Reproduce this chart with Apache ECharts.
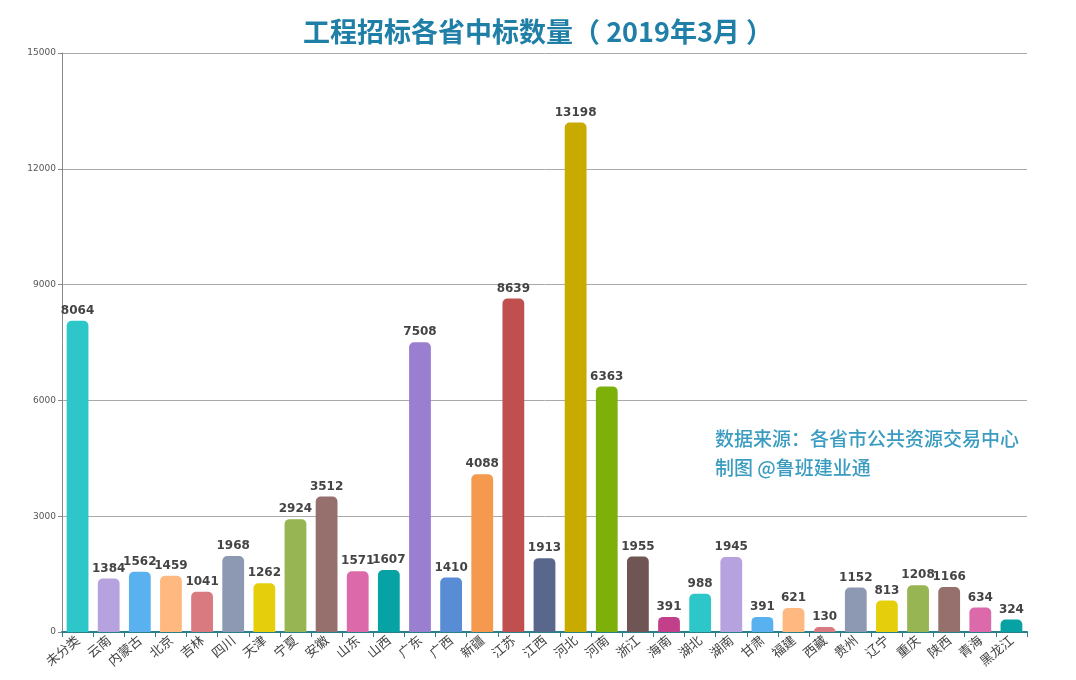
<!DOCTYPE html>
<html><head><meta charset="utf-8">
<script src="https://cdn.jsdelivr.net/npm/echarts@6/dist/echarts.min.js"></script>
<style>html,body{margin:0;padding:0;background:#fff}#c{width:1076px;height:680px}</style>
</head><body><div id="c"></div>
<script>
const categories = ['未分类','云南','内蒙古','北京','吉林','四川','天津','宁夏','安徽','山东','山西','广东','广西','新疆','江苏','江西','河北','河南','浙江','海南','湖北','湖南','甘肃','福建','西藏','贵州','辽宁','重庆','陕西','青海','黑龙江'];
const values = [8064,1384,1562,1459,1041,1968,1262,2924,3512,1571,1607,7508,1410,4088,8639,1913,13198,6363,1955,391,988,1945,391,621,130,1152,813,1208,1166,634,324];
const palette = ['#2ec7c9','#b6a2de','#5ab1ef','#ffb980','#d87a80','#8d98b3','#e5cf0d','#97b552','#95706d','#dc69aa','#07a2a4','#9a7fd1','#588dd5','#f5994e','#c05050','#59678c','#c9ab00','#7eb00a','#6f5553','#c14089'];
const chart = echarts.init(document.getElementById('c'));
chart.setOption({
  animation:false,
  title:{text:'工程招标各省中标数量（ 2019年3月 ）',left:'center',top:13,
    textStyle:{color:'#1f7fa6',fontSize:27,fontWeight:'bold',fontFamily:'Noto Sans CJK SC'}},
  graphic:[
    {type:'text',left:715,top:429,style:{text:'数据来源：各省市公共资源交易中心',fill:'#3a9cc0',font:'500 19px "Noto Sans CJK SC"'}},
    {type:'text',left:715,top:458,style:{text:'制图 @鲁班建业通',fill:'#3a9cc0',font:'500 19px "Noto Sans CJK SC"'}}
  ],
  grid:{left:62,right:49,top:53,bottom:48,containLabel:false},
  xAxis:{type:'category',data:categories,
    axisLine:{lineStyle:{color:'#2a7f8f',width:2}},
    axisTick:{show:true,alignWithLabel:false,lineStyle:{color:'#2a7f8f'}},
    axisLabel:{rotate:40,interval:0,color:'#444',fontSize:13,fontFamily:'Noto Sans CJK SC',margin:6}},
  yAxis:{type:'value',min:0,max:15000,interval:3000,
    axisLine:{show:true,lineStyle:{color:'#888'}},
    axisTick:{show:true,length:4,lineStyle:{color:'#888'}},
    splitLine:{lineStyle:{color:'#aaa'}},
    axisLabel:{color:'#555',fontSize:9,margin:6,fontFamily:'DejaVu Sans',formatter:v=>String(v)}},
  series:[{type:'bar',barWidth:'70%',
    data:values.map((v,i)=>({value:v,itemStyle:{color:palette[i%palette.length]}})),
    itemStyle:{borderRadius:[5,5,0,0]},
    label:{show:true,position:'top',color:'#444',fontWeight:'bold',fontSize:12,fontFamily:'DejaVu Sans',distance:4}}]
});
</script></body></html>
